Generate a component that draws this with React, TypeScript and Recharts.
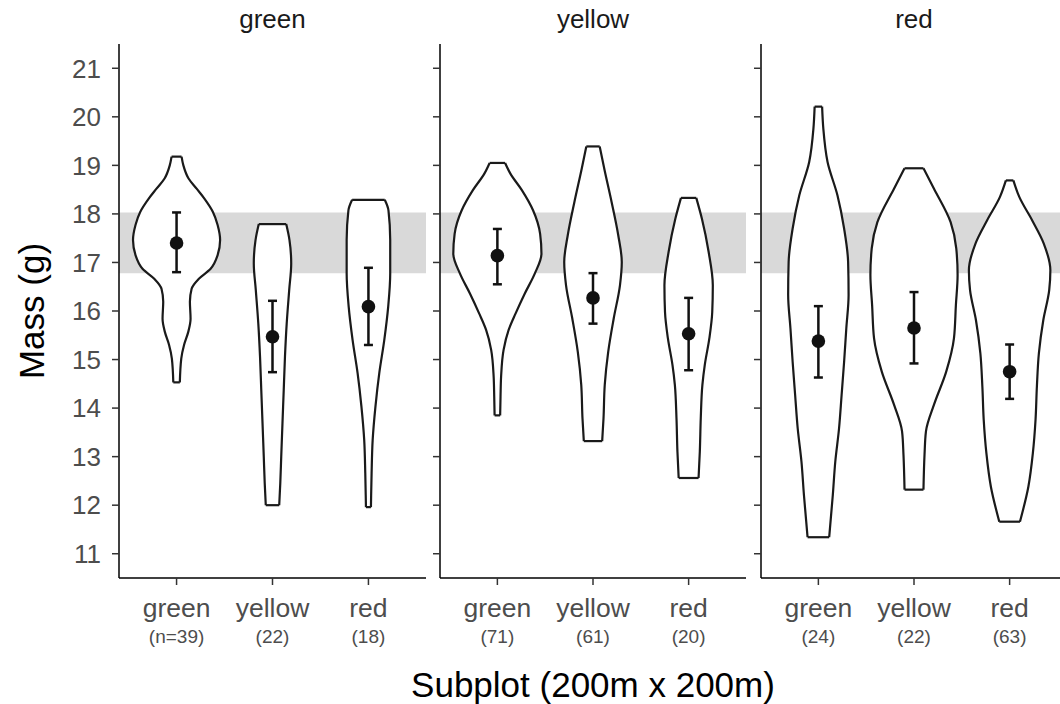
import React from 'react';
import { ComposedChart, XAxis, YAxis, Area, Line, Scatter, ErrorBar } from 'recharts';

// ---------- data ----------
const facetNames = ['green', 'yellow', 'red'];
const categoryNames = ['green', 'yellow', 'red'];
const categoryPositions = [1, 2, 3];
const sampleSizes = [
  [39, 22, 18],
  [71, 61, 20],
  [24, 22, 63],
];
const meanMass = [
  [17.4, 15.47, 16.09],
  [17.14, 16.27, 15.53],
  [15.38, 15.65, 14.75],
];
const ciLower = [
  [16.8, 14.74, 15.3],
  [16.55, 15.74, 14.78],
  [14.63, 14.92, 14.19],
];
const ciUpper = [
  [18.03, 16.21, 16.89],
  [17.69, 16.78, 16.27],
  [16.1, 16.39, 15.31],
];
const referenceBand = [16.78, 18.03];
const massTicks = [11, 12, 13, 14, 15, 16, 17, 18, 19, 20, 21];
const xTitle = 'Subplot (200m x 200m)';
const yTitle = 'Mass (g)';

// violin profiles: [mass, half-width in category units]
const violinGreenInGreen = [
  [14.53, 0.034], [15.02, 0.049], [15.3, 0.078], [15.57, 0.122], [15.84, 0.146],
  [16.19, 0.139], [16.46, 0.157], [16.66, 0.23], [16.87, 0.355], [17.15, 0.428],
  [17.46, 0.454], [17.77, 0.428], [18.04, 0.379], [18.31, 0.292], [18.52, 0.209],
  [18.73, 0.125], [19.0, 0.071], [19.18, 0.052],
];
const violinYellowInGreen = [
  [12.0, 0.07], [12.45, 0.081], [13.0, 0.091], [13.69, 0.104], [14.37, 0.117],
  [15.06, 0.13], [15.74, 0.148], [16.43, 0.174], [16.98, 0.195], [17.46, 0.177],
  [17.79, 0.143],
];
const violinRedInGreen = [
  [11.96, 0.026], [12.66, 0.033], [13.34, 0.044], [14.03, 0.073], [14.72, 0.113],
  [15.4, 0.165], [16.09, 0.206], [16.77, 0.227], [17.46, 0.227], [18.07, 0.209],
  [18.29, 0.17],
];
const violinGreenInYellow = [
  [13.85, 0.029], [14.24, 0.033], [14.65, 0.039], [15.2, 0.065], [15.61, 0.118],
  [15.95, 0.191], [16.36, 0.287], [16.77, 0.391], [17.18, 0.461], [17.59, 0.447],
  [18.07, 0.374], [18.49, 0.256], [18.83, 0.136], [19.05, 0.081],
];
const violinYellowInYellow = [
  [13.32, 0.096], [13.79, 0.11], [14.48, 0.123], [15.16, 0.159], [15.85, 0.217],
  [16.53, 0.282], [17.01, 0.301], [17.56, 0.264], [18.24, 0.195], [18.93, 0.118],
  [19.39, 0.07],
];
const violinRedInYellow = [
  [12.56, 0.104], [13.1, 0.117], [13.79, 0.127], [14.48, 0.144], [14.89, 0.169],
  [15.44, 0.217], [15.98, 0.247], [16.53, 0.253], [17.22, 0.209], [17.9, 0.139],
  [18.33, 0.08],
];
const violinGreenInRed = [
  [11.34, 0.113], [12.21, 0.151], [12.9, 0.177], [13.58, 0.216], [14.27, 0.243],
  [14.95, 0.269], [15.64, 0.292], [16.33, 0.316], [17.01, 0.311], [17.7, 0.269],
  [18.38, 0.2], [19.07, 0.096], [19.75, 0.052], [20.21, 0.039],
];
const violinYellowInRed = [
  [12.32, 0.099], [13.04, 0.11], [13.52, 0.125], [14.07, 0.209], [14.75, 0.337],
  [15.44, 0.418], [16.12, 0.438], [16.74, 0.456], [17.29, 0.442], [17.83, 0.383],
  [18.52, 0.209], [18.94, 0.099],
];
const violinRedInRed = [
  [11.66, 0.108], [12.38, 0.196], [13.07, 0.243], [13.76, 0.271], [14.44, 0.285],
  [15.13, 0.306], [15.81, 0.352], [16.43, 0.414], [16.84, 0.426], [17.39, 0.357],
  [17.87, 0.235], [18.35, 0.101], [18.69, 0.039],
];

const violins = [
  [violinGreenInGreen, violinYellowInGreen, violinRedInGreen],
  [violinGreenInYellow, violinYellowInYellow, violinRedInYellow],
  [violinGreenInRed, violinYellowInRed, violinRedInRed],
];

// ---------- styling ----------
const FONT = '"Liberation Sans", Arial, Helvetica, sans-serif';
const INK = '#1a1a1a';
const X_DOMAIN = [0.4, 3.6];
const Y_DOMAIN = [10.5, 21.5];

const panelGeom = [
  { left: 0, width: 426, yAxisWidth: 119 },
  { left: 426, width: 320, yAxisWidth: 14 },
  { left: 747, width: 320, yAxisWidth: 14 },
];

function CategoryTick(props: any) {
  const { x, y, payload, panel } = props;
  const i = categoryPositions.indexOf(payload.value);
  if (i < 0) return null;
  const n = sampleSizes[panel][i];
  const countLabel = panel === 0 && i === 0 ? `(n=${n})` : `(${n})`;
  return (
    <g>
      <text x={x} y={y + 30} textAnchor="middle" fontSize={26.5} fontFamily={FONT} fill="#4d4d4d">
        {categoryNames[i]}
      </text>
      <text x={x} y={y + 56} textAnchor="middle" fontSize={19} fontFamily={FONT} fill="#4d4d4d">
        {countLabel}
      </text>
    </g>
  );
}

const MeanDot = (props: any) => {
  const { cx, cy } = props;
  if (cx == null || cy == null) return null;
  return <circle cx={cx} cy={cy} r={6.8} fill="#111" />;
};

function Panel({ p }: { p: number }) {
  const g = panelGeom[p];
  const bandData = [
    { y: referenceBand[0], lo: X_DOMAIN[0], hi: X_DOMAIN[1] },
    { y: referenceBand[1], lo: X_DOMAIN[0], hi: X_DOMAIN[1] },
  ];
  const meanData = categoryPositions.map((pos, i) => ({
    x: pos,
    y: meanMass[p][i],
    err: [meanMass[p][i] - ciLower[p][i], ciUpper[p][i] - meanMass[p][i]],
  }));

  return (
    <div style={{ position: 'absolute', left: g.left, top: 0 }}>
      <ComposedChart
        layout="vertical"
        width={g.width}
        height={704}
        margin={{ top: 44, right: 0, bottom: 0, left: 0 }}
      >
        <XAxis
          type="number"
          dataKey="x"
          domain={X_DOMAIN}
          allowDataOverflow
          ticks={categoryPositions}
          interval={0}
          height={126}
          tickSize={7}
          tickMargin={2}
          axisLine={{ stroke: '#000', strokeWidth: 1.5 }}
          tickLine={{ stroke: '#333', strokeWidth: 1.5 }}
          tick={<CategoryTick panel={p} />}
        />
        <YAxis
          type="number"
          dataKey="y"
          domain={Y_DOMAIN}
          reversed
          allowDataOverflow
          ticks={massTicks}
          interval={0}
          width={g.yAxisWidth}
          tickSize={7}
          tickMargin={11}
          axisLine={{ stroke: '#000', strokeWidth: 1.5 }}
          tickLine={{ stroke: '#333', strokeWidth: 1.5 }}
          tickFormatter={p === 0 ? (v: number) => String(v) : () => ''}
          tick={{ fill: '#4d4d4d', fontSize: 26, fontFamily: FONT }}
        />
        <Area
          data={bandData}
          dataKey={(d: any) => [d.lo, d.hi]}
          type="linear"
          stroke="none"
          fill="#d9d9d9"
          fillOpacity={1}
          isAnimationActive={false}
          dot={false}
          activeDot={false}
        />
        {violins[p].map((profile, i) => {
          const pos = categoryPositions[i];
          const data = profile.map(([m, w]) => ({ y: m, lo: pos - w, hi: pos + w }));
          return (
            <Area
              key={`v${i}`}
              data={data}
              dataKey={(d: any) => [d.lo, d.hi]}
              type="monotone"
              stroke={INK}
              strokeWidth={2.2}
              fill="#ffffff"
              fillOpacity={1}
              isAnimationActive={false}
              dot={false}
              activeDot={false}
            />
          );
        })}
        {violins[p].map((profile, i) => {
          const pos = categoryPositions[i];
          const first = profile[0];
          const last = profile[profile.length - 1];
          return (
            <React.Fragment key={`c${i}`}>
              <Line
                data={[
                  { y: first[0], v: pos - first[1] },
                  { y: first[0], v: pos + first[1] },
                ]}
                dataKey="v"
                type="linear"
                stroke={INK}
                strokeWidth={2.2}
                dot={false}
                activeDot={false}
                isAnimationActive={false}
              />
              <Line
                data={[
                  { y: last[0], v: pos - last[1] },
                  { y: last[0], v: pos + last[1] },
                ]}
                dataKey="v"
                type="linear"
                stroke={INK}
                strokeWidth={2.2}
                dot={false}
                activeDot={false}
                isAnimationActive={false}
              />
            </React.Fragment>
          );
        })}
        <Scatter data={meanData} shape={MeanDot} isAnimationActive={false}>
          <ErrorBar dataKey="err" direction="y" width={4.5} stroke="#111" strokeWidth={2.5} />
        </Scatter>
      </ComposedChart>
    </div>
  );
}

export default function App() {
  const centers = [272.5, 593, 914];
  return (
    <div
      style={{
        position: 'absolute',
        left: 0,
        top: 0,
        width: 1060,
        height: 704,
        overflow: 'hidden',
        background: '#fff',
      }}
    >
      <Panel p={0} />
      <Panel p={1} />
      <Panel p={2} />
      <svg
        width={1060}
        height={704}
        style={{ position: 'absolute', left: 0, top: 0, pointerEvents: 'none' }}
      >
        {facetNames.map((name, i) => (
          <text
            key={name}
            x={centers[i]}
            y={28}
            textAnchor="middle"
            fontSize={26}
            fontFamily={FONT}
            fill="#1a1a1a"
          >
            {name}
          </text>
        ))}
        <text x={593} y={697} textAnchor="middle" fontSize={35} fontFamily={FONT} fill="#000">
          {xTitle}
        </text>
        <text
          x={0}
          y={0}
          transform="translate(44,311) rotate(-90)"
          textAnchor="middle"
          fontSize={35}
          fontFamily={FONT}
          fill="#000"
        >
          {yTitle}
        </text>
      </svg>
    </div>
  );
}
